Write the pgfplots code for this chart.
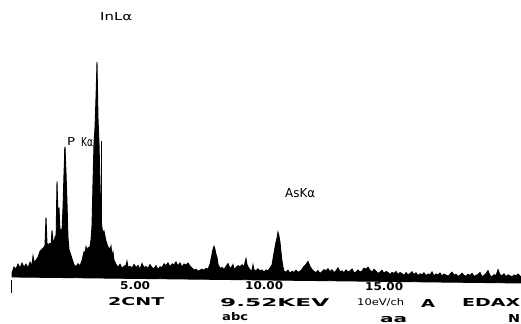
\documentclass[border=0pt]{standalone}
\usepackage{fontspec}
\setmainfont{DejaVu Sans}
\usepackage{graphicx}
\usepackage{pgfplots}
\pgfplotsset{compat=1.18}
\newcommand{\lab}[5]{\node[anchor=south west,inner sep=0pt] at (#1bp,#2bp) {\resizebox{#3bp}{#4bp}{\bfseries #5}};}
\newcommand{\labr}[5]{\node[anchor=south west,inner sep=0pt] at (#1bp,#2bp) {\resizebox{#3bp}{#4bp}{#5}};}
\begin{document}
\begin{tikzpicture}
\begin{axis}[anchor=origin, at={(0bp,0bp)},
  x={(25bp,-0.296bp)}, y={(0bp,1bp)},
  axis lines=none, xmin=-0.6, xmax=20.24, ymin=0, ymax=220, clip=false]
\addplot[fill=black, draw=black, line width=0.9pt, line join=miter] coordinates {
(-0.12,0) (-0.12,4) (-0.04,10) (0.04,8) (0.12,13) (0.20,9) (0.28,14) (0.36,10) (0.44,13) (0.52,9)
(0.60,15) (0.68,12) (0.72,21) (0.76,15) (0.84,17) (0.92,20) (1.00,26) (1.08,28) (1.16,30) (1.20,32)
(1.24,60) (1.28,34) (1.32,33) (1.40,34) (1.44,31) (1.48,47) (1.52,37) (1.56,35) (1.60,40) (1.64,34)
(1.68,96) (1.72,62) (1.76,70) (1.80,47) (1.84,48) (1.88,46) (1.92,70) (1.96,104) (2.00,131) (2.04,105)
(2.08,75) (2.12,40) (2.16,28) (2.20,25) (2.28,19) (2.36,13) (2.44,11) (2.52,14) (2.60,12) (2.68,17)
(2.76,26) (2.80,24) (2.84,31) (2.88,28) (2.92,30) (3.00,31) (3.04,38) (3.08,52) (3.12,95) (3.16,135)
(3.20,150) (3.24,180) (3.28,216) (3.32,160) (3.36,135) (3.40,95) (3.44,60) (3.48,50) (3.52,45) (3.56,47)
(3.64,37) (3.72,31) (3.80,29) (3.84,32) (3.88,21) (3.92,26) (3.96,18) (4.04,14) (4.12,11) (4.20,14)
(4.28,10) (4.36,12) (4.44,13) (4.48,17) (4.52,11) (4.60,12) (4.68,10) (4.76,14) (4.84,11) (4.92,13)
(5.00,9) (5.08,15) (5.16,11) (5.24,12) (5.32,10) (5.40,14) (5.48,11) (5.56,10) (5.64,13) (5.72,9)
(5.80,12) (5.88,11) (5.96,15) (6.04,13) (6.12,16) (6.20,12) (6.28,15) (6.36,14) (6.44,17) (6.52,13)
(6.60,16) (6.68,12) (6.76,15) (6.84,14) (6.92,16) (7.00,13) (7.08,11) (7.16,9) (7.24,10) (7.32,8)
(7.40,9) (7.48,10) (7.56,9) (7.64,11) (7.72,10) (7.80,15) (7.88,25) (7.92,30) (7.96,33) (8.00,30)
(8.04,25) (8.08,22) (8.12,15) (8.20,11) (8.28,12) (8.36,10) (8.44,13) (8.52,16) (8.60,11) (8.68,13)
(8.72,15) (8.76,10) (8.84,12) (8.92,14) (9.00,13) (9.08,15) (9.16,13) (9.24,21) (9.28,15) (9.32,13)
(9.40,10) (9.48,9) (9.52,15) (9.56,10) (9.64,9) (9.72,11) (9.80,9) (9.88,10) (9.96,8) (10.04,10)
(10.12,9) (10.20,12) (10.28,15) (10.36,27) (10.44,38) (10.48,42) (10.52,48) (10.56,44) (10.60,38) (10.64,28)
(10.68,19) (10.72,13) (10.76,9) (10.84,8) (10.92,10) (11.00,7) (11.08,9) (11.16,8) (11.24,10) (11.32,8)
(11.40,9) (11.48,11) (11.56,14) (11.64,16) (11.72,19) (11.80,14) (11.88,11) (11.96,9) (12.04,8) (12.12,10)
(12.20,7) (12.28,9) (12.36,11) (12.44,10) (12.52,12) (12.60,9) (12.68,11) (12.76,8) (12.84,10) (12.92,13)
(13.00,9) (13.08,10) (13.16,8) (13.24,11) (13.32,9) (13.40,10) (13.48,12) (13.56,8) (13.64,9) (13.72,11)
(13.80,9) (13.88,10) (13.96,13) (14.04,12) (14.12,14) (14.20,11) (14.28,9) (14.36,12) (14.44,10) (14.52,8)
(14.60,9) (14.68,11) (14.76,8) (14.84,10) (14.92,9) (15.00,7) (15.08,9) (15.16,8) (15.24,10) (15.32,7)
(15.40,9) (15.48,8) (15.56,6) (15.64,9) (15.72,7) (15.80,8) (15.88,10) (15.96,7) (16.04,9) (16.12,6)
(16.20,8) (16.28,7) (16.36,9) (16.44,6) (16.52,8) (16.60,7) (16.68,10) (16.76,6) (16.84,8) (16.92,7)
(17.00,9) (17.08,6) (17.16,8) (17.24,7) (17.32,6) (17.40,8) (17.48,10) (17.56,7) (17.64,8) (17.72,6)
(17.80,7) (17.88,9) (17.96,7) (18.04,6) (18.12,8) (18.20,7) (18.28,9) (18.36,6) (18.44,7) (18.52,8)
(18.60,10) (18.68,6) (18.76,7) (18.84,9) (18.92,12) (19.00,7) (19.08,6) (19.16,8) (19.24,7) (19.32,13)
(19.40,8) (19.48,7) (19.56,9) (19.64,6) (19.72,8) (19.80,7) (19.88,6) (19.96,8) (20.04,7) (20.12,9)
(20.20,7) (20.24,6) (20.24,0)
} -- cycle;
\addplot[black, line width=0.6pt] coordinates {(1.96,40) (1.96,129)};
\addplot[black, line width=0.6pt] coordinates {(3.46,56) (3.46,137)};
\end{axis}
% labels (pixel positions of the reference: x = px-15, y = 277-py)
\labr{85}{256}{32}{8}{InLα}
\labr{52}{131}{8}{8}{P}
\labr{66}{130}{12}{9}{Kα}
\labr{270}{79}{30}{9}{AsKα}
\lab{105}{-13}{30}{8}{5.00}
\lab{230}{-13}{38}{8}{10.00}
\lab{350}{-14}{38}{8}{15.00}
\lab{93}{-29}{56}{8}{2CNT}
\lab{205}{-30}{109}{8}{9.52KEV}
\labr{342}{-30}{47}{7}{10eV/ch}
\lab{406}{-31}{14}{8}{A}
\lab{447}{-30}{58}{8}{EDAX}
\lab{207}{-44}{26}{8}{abc}
\lab{365}{-46}{27}{6}{aa}
\lab{493}{-46}{12}{8}{N}
\draw[line width=1.5bp] (-3.5bp,-3bp) -- (-3.5bp,-16bp);
\pgfresetboundingbox
\useasboundingbox (-15bp,-47bp) rectangle (506bp,277bp);
\end{tikzpicture}
\end{document}
